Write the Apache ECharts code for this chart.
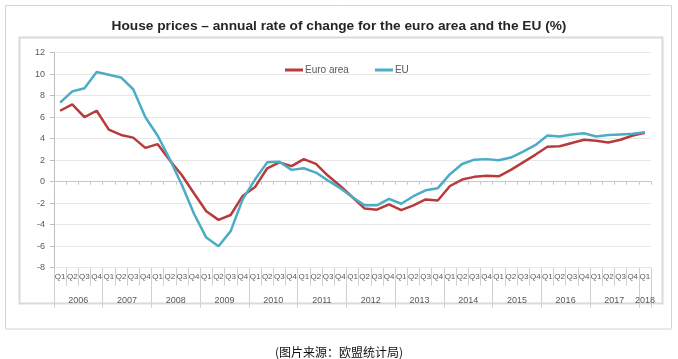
<!DOCTYPE html>
<html>
<head>
<meta charset="utf-8">
<script src="https://cdn.jsdelivr.net/npm/echarts@6/dist/echarts.min.js"></script>
<style>html,body{margin:0;padding:0;background:#fff;}#c{width:678px;height:359px;}</style>
</head>
<body>
<div id="c"></div>
<script>
// ---- data ----
var years = [2006, 2007, 2008, 2009, 2010, 2011, 2012, 2013, 2014, 2015, 2016, 2017, 2018];
var quarterNames = ['Q1', 'Q2', 'Q3', 'Q4'];
var lastYearQuarters = 1; // 2018 only Q1
var euroArea = [6.6, 7.2, 6.0, 6.6, 4.85, 4.35, 4.1, 3.15, 3.5, 2.0, 0.6, -1.1,
                -2.75, -3.55, -3.1, -1.3, -0.5, 1.25, 1.8, 1.45, 2.1, 1.65, 0.55, -0.4,
                -1.45, -2.5, -2.6, -2.1, -2.65, -2.2, -1.65, -1.75, -0.4, 0.2, 0.45, 0.55,
                0.5, 1.1, 1.8, 2.5, 3.25, 3.3, 3.6, 3.9, 3.8, 3.65, 3.9, 4.3, 4.55];
var eu = [7.35, 8.4, 8.7, 10.2, 9.95, 9.7, 8.6, 6.0, 4.3, 2.1, -0.3, -3.0,
          -5.2, -6.0, -4.6, -1.6, 0.2, 1.8, 1.85, 1.1, 1.25, 0.85, 0.1, -0.6,
          -1.45, -2.2, -2.2, -1.6, -2.05, -1.35, -0.8, -0.6, 0.7, 1.65, 2.05, 2.1,
          2.0, 2.25, 2.8, 3.4, 4.3, 4.2, 4.4, 4.5, 4.2, 4.35, 4.4, 4.45, 4.6];
var yMin = -8, yMax = 12, yStep = 2;
var titleText = 'House prices \u2013 annual rate of change for the euro area and the EU (%)';
var captionText = '(图片来源：欧盟统计局)';
var seriesNames = ['Euro area', 'EU'];

// ---- categories ----
var categories = [];
years.forEach(function (y, yi) {
  var n = (yi === years.length - 1) ? lastYearQuarters : 4;
  for (var q = 0; q < n; q++) categories.push(y + ' ' + quarterNames[q]);
});
var lastIdx = categories.length - 1;

var chart = echarts.init(document.getElementById('c'), null, {renderer: 'canvas'});
var grey = '#595959';
var font = 'Liberation Sans';
chart.setOption({
  backgroundColor: '#fff',
  animation: false,
  textStyle: {fontFamily: font},
  title: [
    {text: titleText, left: 'center', top: 14,
     textStyle: {fontSize: 13.7, fontWeight: 'bold', color: '#262626', fontFamily: font}},
    {text: captionText, left: 'center', top: 341,
     textStyle: {fontSize: 12, fontWeight: 'normal', color: '#111', fontFamily: 'Noto Sans CJK SC'}}
  ],
  legend: {
    top: 60, left: 280, icon: 'rect', itemWidth: 18, itemHeight: 3, itemGap: 26,
    textStyle: {fontSize: 10, color: grey, fontFamily: font, padding: [0, 0, 0, -3]},
    data: seriesNames
  },
  graphic: [
    {type: 'rect', silent: true, shape: {x: 5.5, y: 5.5, width: 666, height: 323.5},
     style: {fill: 'none', stroke: '#d4d4d4', lineWidth: 1}},
    {type: 'rect', silent: true, shape: {x: 19.5, y: 37.5, width: 643, height: 266},
     style: {fill: 'none', stroke: '#d9d9d9', lineWidth: 2}}
  ],
  grid: {left: 54, right: 27, top: 52.7, height: 215, containLabel: false},
  yAxis: {
    type: 'value', min: yMin, max: yMax, interval: yStep,
    axisLine: {show: true, lineStyle: {color: '#bfbfbf'}},
    axisTick: {show: true, length: 4, lineStyle: {color: '#bfbfbf'}},
    axisLabel: {fontSize: 9, color: grey, margin: 9},
    splitLine: {lineStyle: {color: '#e8e8e8'}}
  },
  xAxis: [
    { // axis on zero line
      type: 'category', data: categories, boundaryGap: true,
      axisLine: {onZero: true, lineStyle: {color: '#c8c8c8'}},
      axisTick: {show: true, length: 3, interval: 0, lineStyle: {color: '#c8c8c8'}},
      axisLabel: {show: false}
    },
    { // quarter labels
      type: 'category', data: categories, boundaryGap: true, position: 'bottom', offset: 0,
      axisLine: {show: false, onZero: false},
      axisTick: {show: true, length: 18, interval: 0, lineStyle: {color: '#d0d0d0'}},
      axisLabel: {show: true, interval: 0, fontSize: 8, color: grey, margin: 5,
        formatter: function (v) { return v.split(' ')[1]; }}
    },
    { // year labels
      type: 'category', data: categories, boundaryGap: true, position: 'bottom', offset: 0,
      axisLine: {show: false, onZero: false},
      axisTick: {show: true, length: 40, lineStyle: {color: '#d0d0d0'},
        interval: function (i) { return i % 4 === 0; }},
      axisLabel: {show: true, fontSize: 9, color: grey, margin: 28,
        interval: function (i) { return i % 4 === 1 || i === lastIdx; },
        formatter: function (v, i) {
          var y = v.split(' ')[0];
          return i === lastIdx ? y : '{s|' + y + '}';
        },
        rich: {s: {fontSize: 9, color: grey, padding: [0, 0, 0, 12]}}}
    }
  ],
  series: [
    {name: seriesNames[0], type: 'line', data: euroArea, symbol: 'none', xAxisIndex: 0,
     lineStyle: {color: '#b83b3b', width: 2.5}, itemStyle: {color: '#b83b3b'}},
    {name: seriesNames[1], type: 'line', data: eu, symbol: 'none', xAxisIndex: 0,
     lineStyle: {color: '#4bacc6', width: 2.5}, itemStyle: {color: '#4bacc6'}}
  ]
});
</script>
</body>
</html>
